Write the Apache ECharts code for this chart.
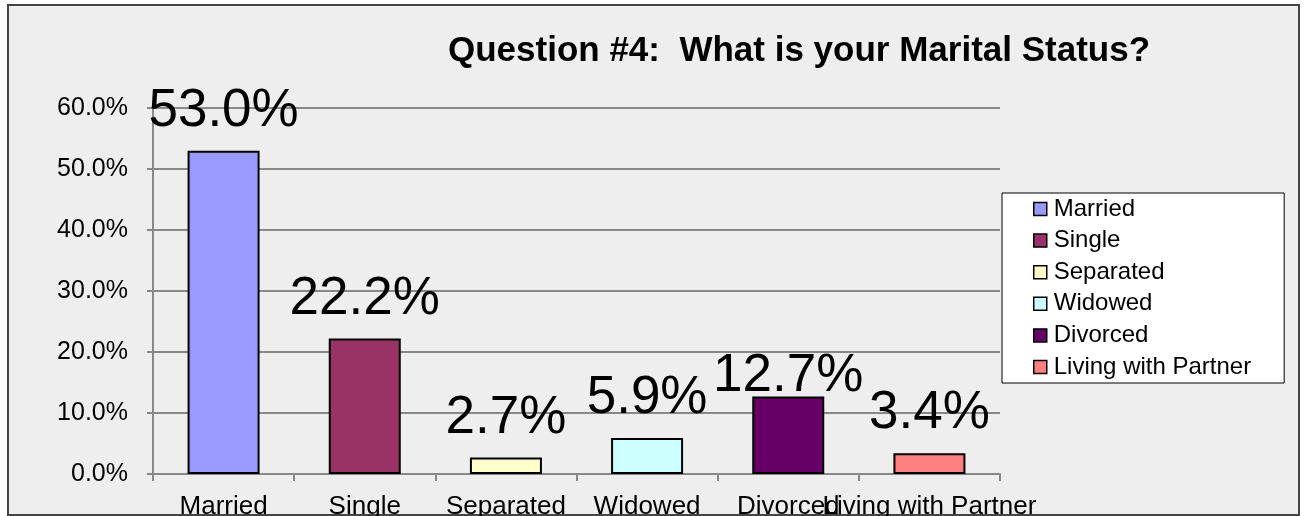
<!DOCTYPE html>
<html>
<head>
<meta charset="utf-8">
<script src="https://cdn.jsdelivr.net/npm/echarts@6/dist/echarts.min.js"></script>
<style>
html,body{margin:0;padding:0;background:#ffffff;}
#c{width:1304px;height:516px;}
</style>
</head>
<body>
<div id="c"></div>
<script>
const categories = ["Married", "Single", "Separated", "Widowed", "Divorced", "Living with Partner"];
const values = [53.0, 22.2, 2.7, 5.9, 12.7, 3.4];
const colors = ["#9999FF", "#993366", "#FFFFCC", "#CCFFFF", "#660066", "#FF8080"];
const labelDrop = [0, 0, 0, 0, 19, 0];
const yTicks = { min: 0, max: 60, interval: 10 };
const titleText = "Question #4:  What is your Marital Status?";

const FONT = "'Liberation Sans', Arial, Helvetica, sans-serif";

const chart = echarts.init(document.getElementById('c'), null, { renderer: 'canvas' });

const series = categories.map((name, i) => ({
  name: name,
  type: 'bar',
  barWidth: '51%',
  barGap: '-100%',
  data: categories.map((_, j) => j === i ? values[i] : null),
  itemStyle: { color: colors[i], borderColor: '#000000', borderWidth: 2 },
  label: {
    show: true,
    position: 'top',
    distance: 13,
    offset: [0, labelDrop[i]],
    formatter: p => p.value.toFixed(1) + '%',
    fontSize: 53,
    fontFamily: FONT,
    color: '#000000'
  },
  z: 3
}));

chart.setOption({
  animation: false,
  backgroundColor: '#ffffff',
  graphic: [{
    type: 'rect',
    shape: { x: 8, y: 5, width: 1291, height: 510 },
    style: { fill: '#eeeeee', stroke: '#444444', lineWidth: 2 },
    z: -10, silent: true
  }],
  title: {
    text: titleText,
    left: 443,
    top: 29,
    textStyle: { fontFamily: FONT, fontSize: 35, fontWeight: 'bold', color: '#000000' }
  },
  legend: {
    orient: 'vertical',
    left: 1002,
    top: 193,
    padding: [4, 33, 4, 31],
    itemGap: 7.6,
    itemWidth: 13,
    itemHeight: 13,
    icon: 'rect',
    backgroundColor: '#ffffff',
    borderColor: '#000000',
    borderWidth: 1,
    itemStyle: { borderColor: '#000000', borderWidth: 1.5 },
    textStyle: { fontFamily: FONT, fontSize: 24, color: '#000000', padding: [0, 0, 0, 2] },
    data: categories
  },
  grid: { left: 153, right: 304, top: 108, bottom: 42, containLabel: false, outerBoundsMode: 'none' },
  xAxis: {
    type: 'category',
    data: categories,
    axisLine: { lineStyle: { color: '#888888', width: 2 } },
    axisTick: { show: true, length: 7, lineStyle: { color: '#888888', width: 2 } },
    axisLabel: { interval: 0, margin: 20, fontFamily: FONT, fontSize: 26, color: '#000000' },
    splitLine: { show: false }
  },
  yAxis: {
    type: 'value',
    min: yTicks.min,
    max: yTicks.max,
    interval: yTicks.interval,
    axisLine: { show: true, lineStyle: { color: '#888888', width: 2 } },
    axisTick: { show: true, length: 6, lineStyle: { color: '#888888', width: 2 } },
    axisLabel: { margin: 25, fontFamily: FONT, fontSize: 25, color: '#000000', formatter: v => v.toFixed(1) + '%' },
    splitLine: { show: true, lineStyle: { color: '#888888', width: 2 } }
  },
  series: series
});
</script>
</body>
</html>
